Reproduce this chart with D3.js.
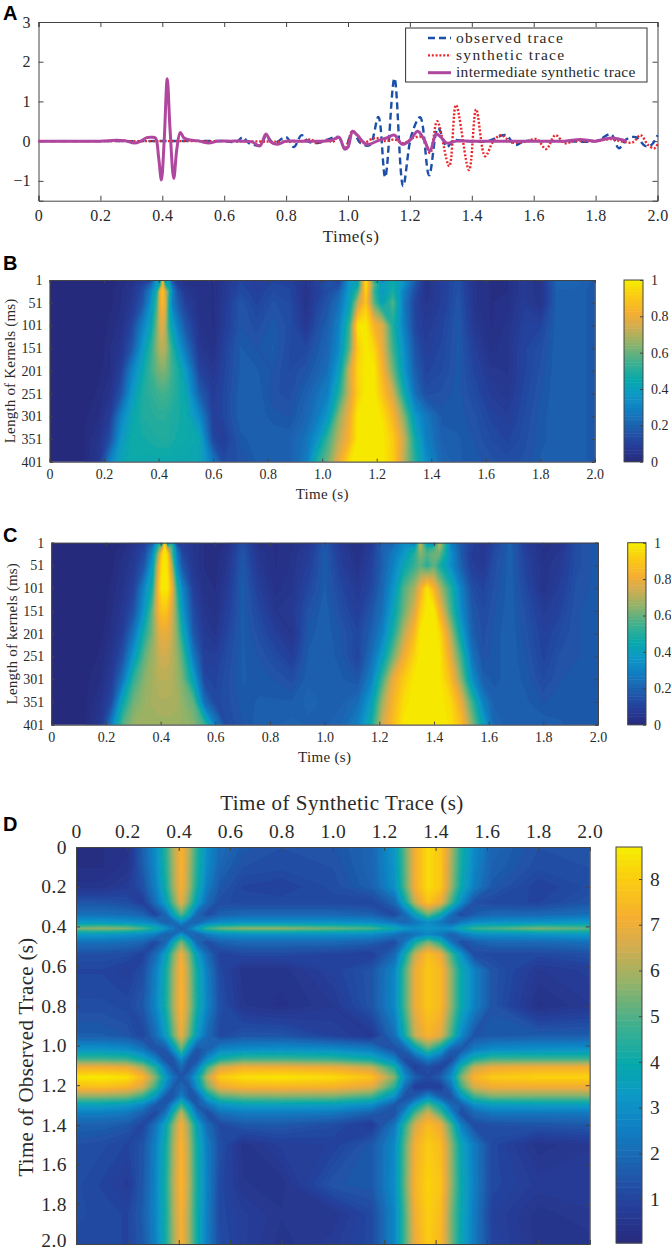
<!DOCTYPE html>
<html>
<head>
<meta charset="utf-8">
<script src="https://cdnjs.cloudflare.com/ajax/libs/d3/7.8.5/d3.min.js"></script>
<style>
  html, body { margin: 0; padding: 0; background: #fff; }
  text { font-family: "Liberation Serif", serif; fill: #2a2a2a; }
  .letter { font-family: "Liberation Sans", sans-serif; font-weight: bold; fill: #000; }
</style>
</head>
<body>
<div id="container"></div>
<script>
/* DATA - panel A traces */
const interTime = [0,.1,.2,.25,.28,.31,.33,.35,.365,.378,.388,.397,.406,.416,.425,.437,.447,.458,.47,.49,.52,.55,.58,.62,.66,.69,.715,.735,.75,.77,.8,.84,.88,.92,.95,.97,.99,1.0,1.015,1.03,1.06,1.1,1.125,1.15,1.175,1.2,1.225,1.245,1.265,1.285,1.3,1.32,1.35,1.4,1.5,1.6,1.7,1.75,1.8,1.85,1.9]
const interValue = [0,0,0,.02,.01,-.05,0,.09,.1,.08,-.4,-.98,0,1.57,.3,-.94,-.2,.22,.08,.03,0,-.05,0,0,0,-.02,-.12,.18,-.02,-.08,0,0,0,0,.03,.1,-.2,-.15,.25,.15,-.08,.02,.08,.15,-.08,.02,.25,.05,-.25,.18,.1,-.05,0,0,0,0,0,.04,0,.08,0]

const obsTime = [0,.3,.6,.64,.66,.68,.72,.735,.76,.8,.825,.85,.87,.9,.97,.99,1.015,1.04,1.07,1.098,1.12,1.15,1.178,1.205,1.233,1.262,1.291,1.32,1.34,1.38,1.45,1.51,1.54,1.57,1.62,1.7,1.8,1.85,1.875,1.9,1.93,1.96,1.98,2.0]
const obsValue = [0,0,0,-.02,.1,-.05,-.1,.15,-.05,.1,-.15,.15,0,-.05,.1,-.2,.25,-.05,-.1,.61,-.91,1.58,-1.13,.15,.6,-.86,.33,-.15,.02,0,0,.15,-.1,0,0,0,0,.17,-.18,.05,.1,-.12,-.1,.15]

const synTime = [0,.6,.85,.88,.9,.93,.95,.97,.99,1.015,1.05,1.07,1.09,1.12,1.15,1.18,1.21,1.24,1.265,1.288,1.327,1.349,1.391,1.414,1.443,1.47,1.494,1.53,1.57,1.61,1.64,1.67,1.7,1.73,1.76,1.8,1.85,1.88,1.92,1.945,1.97,1.99,2.0]
const synValue = [0,0,0,.04,-.05,.03,-.02,.1,-.2,.25,-.05,.03,.08,0,.04,-.05,.08,.1,-.3,.5,-.63,.91,-.73,.8,-.38,0,.15,-.03,-.02,.05,-.2,.15,-.05,0,0,0,.05,0,-.03,.15,-.1,-.18,-.08]

const legendLabels = ["observed trace", "synthetic trace", "intermediate synthetic trace"]

/* DATA - tick labels */
const timeTicks = [0,.2,.4,.6,.8,1,1.2,1.4,1.6,1.8,2]
const ampTicks = [-1,0,1,2,3]
const kernelTicks = [1,51,101,151,201,251,301,351,401]
const unitTicks = [0,.2,.4,.6,.8,1]
const costTicks = [1,2,3,4,5,6,7,8]

/* DATA - panel B, values read at these times and kernel lengths */
const kernelRows = [1,12,26,51,101,151,201,251,301,351,401]
const bTimes = [0,.12,.18,.22,.26,.3,.34,.37,.395,.405,.415,.425,.437,.45,.47,.5,.55,.6,.64,.7,.76,.82,.88,.94,.98,1.02,1.06,1.1,1.13,1.16,1.19,1.22,1.26,1.3,1.34,1.38,1.44,1.5,1.56,1.62,1.68,1.74,1.8,1.86,1.92,2]
const bValues = [
  [0,0,0,0,.02, .04,.08,.1,.45,.2, .9,.2,.45,.15,.08, .04,.04,.03,.06,.12, .1,.12,.1,.06,.1, .15,.1,.4,.42,1, .5,.3,.48,.35,.2, .05,.1,.15,.05,.03, .03,.08,.05,.22,.22, .18],
  [0,0,0,.01,.02, .05,.12,.22,.42,.5, .85,.5,.45,.25,.1, .05,.04,.03,.07,.13, .1,.13,.12,.06,.11, .16,.15,.38,.45,.98, .6,.4,.48,.35,.17, .05,.1,.16,.05,.03, .03,.08,.05,.21,.21, .18],
  [0,0,0,.01,.03, .06,.14,.3,.52,.8, .9,.75,.55,.32,.16, .07,.04,.03,.07,.14, .11,.14,.13,.05,.1, .15,.2,.4,.55,.95, .55,.38,.5,.3,.15, .05,.1,.16,.05,.03, .03,.08,.05,.2,.2, .18],
  [0,0,0,.01,.03, .07,.17,.35,.58,.8, .88,.78,.5,.3,.2, .1,.04,.03,.08,.17, .12,.16,.14,.05,.12, .17,.25,.42,.72,.9, .6,.42,.58,.28,.12, .06,.1,.17,.05,.03, .04,.09,.05,.2,.2, .18],
  [0,0,0,.02,.04, .12,.3,.42,.65,.76, .78,.72,.52,.42,.3, .17,.05,.03,.09,.17, .15,.18,.15,.07,.15, .2,.3,.55,.98,1, .85,.78,.5,.3,.13, .08,.12,.18,.07,.03, .05,.11,.12,.2,.2, .18],
  [0,0,0,.03,.06, .17,.38,.52,.66,.71, .72,.7,.62,.52,.4, .26,.07,.04,.11,.19, .17,.19,.14,.13,.18, .22,.33,.6,.92,1, .95,.8,.55,.35,.17, .1,.13,.18,.1,.04, .06,.12,.15,.2,.2, .18],
  [0,0,.01,.03,.1, .3,.45,.55,.62,.63, .64,.63,.6,.55,.5, .38,.12,.07,.12,.19, .19,.17,.14,.17,.2, .25,.4,.75,.95,1, 1,.85,.62,.38,.2, .12,.14,.18,.12,.07, .06,.12,.16,.2,.2, .18],
  [0,0,.02,.05,.16, .37,.5,.53,.55,.56, .56,.56,.55,.53,.5, .44,.2,.09,.13,.2, .2,.16,.15,.2,.25, .3,.5,.75,.93,1, 1,.9,.75,.48,.25, .15,.16,.18,.14,.09, .07,.13,.17,.2,.2, .18],
  [0,.01,.03,.09,.3, .44,.5,.51,.52,.52, .52,.52,.51,.5,.49, .47,.33,.1,.13,.2, .2,.18,.17,.22,.28, .38,.65,.82,1,1, 1,.98,.85,.65,.38, .28,.18,.18,.16,.12, .1,.14,.18,.2,.2, .18],
  [0,.01,.05,.15,.37, .47,.48,.49,.5,.5, .5,.5,.5,.49,.48, .47,.45,.13,.1,.18, .2,.2,.2,.26,.36, .55,.72,.85,1,1, 1,1,.92,.74,.48, .3,.2,.19,.17,.14, .12,.15,.18,.2,.2, .18],
  [0,.01,.07,.3,.43, .47,.46,.46,.46,.46, .46,.46,.46,.45,.45, .45,.44,.28,.14,.16, .19,.2,.2,.28,.5, .62,.8,.98,1,1, 1,1,.93,.72,.52, .35,.22,.19,.18,.16, .15,.16,.19,.2,.2, .18]
]

/* DATA - panel C */
const cTimes = [0,.12,.18,.22,.26,.3,.34,.37,.395,.405,.415,.425,.44,.46,.48,.52,.56,.6,.64,.7,.76,.82,.88,.94,1,1.06,1.12,1.17,1.21,1.25,1.29,1.33,1.35,1.375,1.4,1.42,1.46,1.5,1.54,1.58,1.62,1.68,1.74,1.8,1.86,1.92,2]
const cValues = [
  [0,0,0,0,.02, .05,.1,.2,.5,.2, .95,.2,.5,.12,.1, .06,.03,.02,.03,.15, .04,.03,.04,.07,.18, .07,.03,.08,.2,.22, .35,.25,.75,.35,.2, .75,.3,.18,.1,.06, .12,.2,.08,.04,.05, .15,.18],
  [0,0,0,.01,.02, .06,.12,.27,.62,.7, 1,.7,.6,.22,.1, .06,.03,.02,.04,.16, .05,.03,.04,.08,.18, .08,.03,.09,.2,.25, .35,.45,.72,.5,.55, .7,.33,.18,.1,.07, .13,.2,.09,.04,.06, .15,.18],
  [0,0,0,.01,.03, .07,.14,.33,.75,.95, 1,.95,.6,.3,.13, .06,.03,.02,.05,.17, .06,.03,.05,.09,.19, .09,.04,.1,.2,.28, .38,.52,.65,.58,.62, .62,.36,.18,.09,.07, .14,.2,.1,.04,.07, .15,.18],
  [0,0,0,.01,.04, .08,.18,.4,.85,.98, 1,.97,.72,.34,.17, .07,.03,.02,.06,.18, .07,.03,.05,.1,.19, .1,.05,.11,.2,.3, .44,.55,.6,.52,.6, .5,.35,.2,.1,.08, .15,.2,.11,.05,.08, .15,.18],
  [0,0,0,.02,.05, .11,.32,.5,.92,1, 1,1,.85,.52,.32, .1,.04,.03,.08,.19, .1,.04,.06,.13,.19, .13,.08,.13,.22,.36, .58,.7,.82,.98,.85, .72,.52,.3,.15,.12, .16,.2,.13,.05,.1, .16,.18],
  [0,0,0,.03,.07, .16,.38,.62,.86,.9, .9,.88,.78,.6,.38, .14,.06,.04,.1,.19, .13,.06,.08,.16,.2, .15,.1,.17,.25,.42, .62,.78,.92,1,1, .85,.58,.33,.18,.14, .17,.2,.15,.09,.12, .17,.18],
  [0,0,.01,.04,.1, .26,.5,.64,.78,.79, .8,.79,.75,.64,.48, .18,.08,.06,.12,.19, .15,.1,.06,.18,.2, .17,.13,.2,.3,.5, .72,.88,1,1,1, .97,.72,.42,.2,.15, .18,.2,.16,.11,.14, .17,.18],
  [0,0,.02,.06,.16, .38,.6,.68,.74,.75, .75,.75,.72,.67,.58, .28,.1,.1,.14,.19, .17,.14,.1,.19,.2, .18,.12,.24,.4,.62, .82,.95,1,1,1, 1,.8,.55,.26,.16, .18,.2,.17,.12,.16, .17,.18],
  [0,.01,.03,.09,.26, .53,.65,.69,.72,.72, .72,.72,.71,.68,.63, .42,.13,.12,.15,.19, .18,.17,.15,.2,.2, .19,.17,.3,.55,.8, .92,1,1,1,1, 1,.88,.65,.35,.2, .18,.2,.18,.14,.17, .18,.18],
  [0,.01,.05,.14,.45, .62,.67,.69,.7,.7, .7,.7,.7,.69,.66, .6,.25,.13,.15,.18, .19,.19,.19,.21,.2, .2,.24,.4,.68,.85, .97,1,1,1,1, 1,.96,.8,.55,.3, .2,.19,.19,.17,.18, .18,.18],
  [0,.01,.07,.3,.58, .67,.68,.68,.68,.68, .68,.68,.68,.68,.67, .65,.55,.3,.14,.17, .2,.2,.21,.2,.2, .22,.3,.48,.75,.88, 1,1,1,1,1, 1,.98,.88,.65,.42, .22,.19,.2,.2,.19, .18,.18]
]

/* DATA - panel D, columns = synthetic time, rows = observed time */
const dSynTimes = [0,.1,.2,.26,.31,.35,.38,.41,.44,.47,.51,.56,.65,.8,1,1.15,1.24,1.28,1.32,1.37,1.42,1.46,1.5,1.55,1.62,1.8,2]
const dObsTimes = [0,.1,.2,.28,.34,.38,.41,.44,.48,.54,.62,.8,.95,1.02,1.07,1.11,1.16,1.21,1.26,1.3,1.34,1.4,1.5,1.7,1.85,2]
const dValues = [
  [.3,.3,.4,1.8,3,4.6,6.2,7.4,6.2,4.6,3,2.1,1.6,1.4,1.5,1.9,3.3,5.3,7.2,8.4,7.9,6.2,4.3,2.9,1.9,1.4,1.4],
  [.3,.3,.5,1.7,2.9,4.5,6.1,7.4,6.1,4.5,2.9,1.9,1.4,1.3,1.4,1.9,3.2,5.2,7.2,8.4,7.9,6.1,4.2,2.8,1.8,1.3,1.4],
  [.5,.5,.8,1.4,2.7,4.3,6,7.3,6,4.3,2.6,1.6,1.1,1,1.3,1.8,3.1,5.1,7.2,8.4,7.9,6,4,2.6,1.6,1,1.3],
  [1.5,1.5,1.3,.9,2.2,3.6,5.4,6.9,5.4,3.6,2.1,1.3,1.2,1.2,1.2,1.1,2,4,6.4,7.8,7,5,3,1.4,1.2,1.1,1.5],
  [2.2,2.2,2.1,1.9,1.1,2,3.8,5.2,3.8,2,1.3,1.8,2,2,2,1.8,1.2,2,3.6,5.4,4,2.2,1.2,1.7,2,2,2.2],
  [3.4,3.4,3.2,3,2.6,1.8,2,3,2,1.9,2.6,3,3.1,3.1,3.1,3,2.4,2,2.3,3,2.4,1.8,2.5,3,3.1,3.2,3.4],
  [5.6,5.8,5.6,5,4.2,3.2,2.4,1.6,2.4,3.6,4.8,5.4,5.8,5.8,5.4,5,4,3.3,3,3.2,3,3.2,4,4.8,5,5.6,5.2],
  [3.4,3.4,3.2,3,2.6,1.8,2,3.2,2,1.9,2.6,3,3.1,3.1,3.1,3,2.4,2,2.3,2.8,2.4,1.8,2.5,3,3.1,3.2,3.4],
  [2.2,2.2,2.1,1.9,1.2,2,4,5.6,4,2,1.3,1.8,2,2,2,1.8,1.3,2.4,4.2,5.6,4.4,2.4,1.3,1.7,2,2,2.2],
  [1.4,1.4,1.3,1,2.1,3.6,5.6,7.1,5.6,3.6,2.1,1,1.2,1.2,1.1,.9,2,4,6.4,7.7,7,5,3.1,1.3,1.2,1.2,1.4],
  [1.1,1.1,.9,1.3,2.6,4.2,6,7.4,6,4.2,2.6,1.2,.5,.5,1,1.5,2.8,5,7,7.9,7.5,5.8,4,2.7,1.5,.7,.9],
  [1.3,1.3,1.2,1.6,2.8,4.3,6.1,7.4,6.1,4.3,2.8,1.4,.6,.4,.7,1.5,2.9,5,7,7.9,7.5,5.8,4,2.7,1.5,.4,.7],
  [1.7,1.7,1.5,1.1,2.1,3.5,5.4,7,5.4,3.5,2.1,1.2,1.5,1.5,1,.7,2.2,4.2,6.4,7.4,6.8,5,2.9,1.5,1.6,1.7,1.7],
  [3.2,3.2,3,2.4,1.4,1.6,3.2,5.2,3,1.5,1.8,2.8,3,3.1,3,2.6,1.4,1.8,3.4,5,3.6,1.8,1.6,2.6,3,3.1,3.2],
  [5,5,4.8,4,2.8,1.4,1.6,3,1.6,1.4,3,4.4,5,5,4.8,4.2,2.8,1.2,1.6,2.6,1.8,1.2,3,4.4,5,5,5],
  [7.2,7.2,7,6,4.4,2.4,1.4,2,1.4,2.4,4.8,6.6,7.2,7.2,7,6.4,4.4,2.2,.9,1.4,1,2.2,4.4,6.4,7,7.2,7.2],
  [8.6,8.7,8.5,7.5,5.6,3.4,2.2,1.5,2.2,3.6,6.2,8,8.5,8.6,8.4,7.8,5.6,3,1.8,1.2,1.8,3,5.6,7.4,8,8.2,8.2],
  [7.6,7.7,7.4,6.6,4.8,2.8,1.6,2,1.6,3,5.4,7,7.4,7.4,7.3,6.8,4.6,2.2,.9,1,.9,2.2,4.8,6.6,7.1,7.1,7.1],
  [5.6,5.6,5.4,4.6,3.2,1.5,1.6,2.8,1.6,1.6,3.6,5,5.4,5.5,5.4,4.8,3,1.4,1.8,3,1.8,1.4,3.2,4.8,5.4,5.4,5.4],
  [3.6,3.6,3.4,2.8,1.6,1.6,3.2,4.8,3.2,1.6,2.2,3.2,3.6,3.6,3.5,3,1.6,2,3.6,5.2,3.8,2,1.7,3,3.4,3.5,3.5],
  [2.6,2.6,2.4,1.8,1.2,2.4,4.4,6.4,4.4,2.4,1.3,2.2,2.5,2.5,2.4,1.8,1.4,3,5,6.6,5,3,1.3,2,2.4,2.4,2.4],
  [1.8,1.8,1.6,1.1,2.3,3.8,5.8,7.2,5.8,3.8,2.1,1.2,1.6,1.6,1.3,.8,2.4,4.6,6.6,7.6,7,5,2.6,1.3,1.4,1.5,1.6],
  [1.4,1.3,1.1,1.5,2.7,4.2,6.1,7.4,6.1,4.2,2.6,1.4,.5,.9,1,1.6,2.9,5.2,7.2,8,7.6,5.8,3.8,2.5,1.2,.5,.7],
  [1.3,1.1,.8,1.6,2.8,4.4,6.2,7.5,6.2,4.3,2.7,1.2,.6,.5,1.5,1.6,3,5.3,7.4,8.2,7.8,5.9,4,2.6,1.2,.8,.8],
  [1.3,1.2,1.1,1.7,2.8,4.3,6.1,7.3,6,4.2,2.6,1.2,.9,.6,.6,1.2,2.8,5,7.2,8.1,7.6,5.6,3.9,2.5,1,.5,.7],
  [1.2,1.2,1.1,1.6,2.7,4.3,6,7.3,6,4.2,2.6,1.3,.9,.5,.8,1.2,2.8,5,7,8,7.5,5.6,3.8,2.5,1.1,.5,.5]
]

/* CONSTANTS */
const width = 671, height = 1252, levels = 64
const mapColors = ["#272a7d","#25409c","#1c62b0","#0f83c4","#0d98c6","#06a8ac","#3fb08f","#95b267","#d4ad4f","#f5ae30","#fbcd10","#f6ee00"]
const mapStops = [0,.1,.2,.3,.37,.45,.55,.66,.75,.82,.92,1]
const frameColor = "#444"

const svg = d3.select("#container").append("svg")
  .attr("width", width)
  .attr("height", height)
  .style("display", "block")

svg.append("defs").append("filter")
  .attr("id", "soft")
  .attr("x", "-2%").attr("y", "-2%").attr("width", "104%").attr("height", "104%")
  .append("feGaussianBlur").attr("stdDeviation", .7)

const colorFor = d3.scaleLinear().domain(mapStops).range(mapColors)

function letter(txt, x, y) {
  svg.append("text").attr("class", "letter")
    .attr("x", x).attr("y", y)
    .attr("font-size", 20)
    .text(txt)
}

function timeFormat(d) {
  return d === 0 ? "0" : d3.format(".1f")(d)
}

function styleAxis(g, size, spacing) {
  g.selectAll(".domain").attr("stroke", frameColor).attr("stroke-width", 1)
  g.selectAll(".tick line").attr("stroke", frameColor).attr("stroke-width", 1)
  g.selectAll("text")
    .attr("font-family", "Liberation Serif")
    .attr("font-size", size)
    .attr("letter-spacing", spacing || 0)
    .attr("fill", "#2a2a2a")
}

/* contour fill, with grid indexes mapped to times through scales */
function heatmap(g, rowValues, colPos, rowPos, lo, hi) {
  const n = colPos.length, m = rowPos.length
  const indexX = d3.scaleLinear().domain(colPos.map((d, i) => i + .5)).range(colPos).clamp(true)
  const indexY = d3.scaleLinear().domain(rowPos.map((d, i) => i + .5)).range(rowPos).clamp(true)
  const path = d3.geoPath(d3.geoTransform({
    point(x, y) { this.stream.point(indexX(x), indexY(y)) }
  }))
  const levelValue = d3.scaleLinear().domain([0, levels]).range([lo, hi])
  const unit = d3.scaleLinear().domain([lo, hi]).range([0, 1])
  const contours = d3.contours().size([n, m])
    .thresholds(d3.range(levels).map(levelValue))(rowValues.flat())
  g.selectAll("path").data(contours).join("path")
    .attr("d", path)
    .attr("fill", d => colorFor(unit(d.value)))
}

function mapFrame(id, left, top, w, h) {
  const g = svg.append("g").attr("clip-path", `url(#${id})`)
  svg.select("defs").append("clipPath").attr("id", id)
    .append("rect").attr("x", left).attr("y", top).attr("width", w).attr("height", h)
  g.append("rect")
    .attr("x", left).attr("y", top).attr("width", w).attr("height", h)
    .attr("fill", mapColors[0])
  return g.append("g").attr("filter", "url(#soft)")
}

function colorbar(x0, x1, y0, y1, lo, hi, ticks, size) {
  const scale = d3.scaleLinear().domain([lo, hi]).range([y1, y0])
  const unit = d3.scaleLinear().domain([lo, hi]).range([0, 1])
  const band = (hi - lo) / levels
  svg.append("g").selectAll("rect")
    .data(d3.range(levels).map(i => lo + i * band))
    .join("rect")
    .attr("x", x0).attr("width", x1 - x0)
    .attr("y", d => scale(d + band))
    .attr("height", d => scale(d) - scale(d + band) + .5)
    .attr("fill", d => colorFor(unit(d + band / 2)))
  svg.append("rect")
    .attr("x", x0).attr("y", y0)
    .attr("width", x1 - x0).attr("height", y1 - y0)
    .attr("fill", "none").attr("stroke", frameColor)
  svg.append("g")
    .attr("transform", `translate(${x1},0)`)
    .call(d3.axisRight(scale).tickValues(ticks).tickSize(-3).tickPadding(8).tickFormat(d => d))
    .call(g => g.select(".domain").remove())
    .call(styleAxis, size)
}

/* PANEL A */
const ax = d3.scaleLinear().domain([0, 2]).range([38.5, 657.5])
const ay = d3.scaleLinear().domain([-1.5, 3]).range([200.7, 22])

letter("A", 3, 20)

svg.append("g").attr("transform", "translate(0,200.7)")
  .call(d3.axisBottom(ax).tickValues(timeTicks).tickSize(-5).tickPadding(9).tickFormat(timeFormat))
  .call(styleAxis, 16, .4)
svg.append("g").attr("transform", "translate(0,22)")
  .call(d3.axisTop(ax).tickValues(timeTicks).tickSize(-5).tickFormat(""))
  .call(styleAxis, 16)
svg.append("g").attr("transform", "translate(38.5,0)")
  .call(d3.axisLeft(ay).tickValues(ampTicks).tickSize(-5).tickPadding(8).tickFormat(d3.format("d")))
  .call(styleAxis, 16)
svg.append("g").attr("transform", "translate(657.5,0)")
  .call(d3.axisRight(ay).tickValues(ampTicks).tickSize(-5).tickFormat(""))
  .call(styleAxis, 16)

svg.append("text")
  .attr("x", 351).attr("y", 242).attr("text-anchor", "middle")
  .attr("font-size", 17).attr("letter-spacing", .5)
  .text("Time(s)")

const traceLine = d3.line()
  .x(d => ax(d[0]))
  .y(d => ay(d[1]))
  .curve(d3.curveCatmullRom.alpha(.5))

const traces = [
  { t: obsTime, v: obsValue, color: "#1b4fa8", width: 2.4, dash: "7 4" },
  { t: synTime, v: synValue, color: "#e8262a", width: 2.4, dash: "2 1.8" },
  { t: interTime, v: interValue, color: "#b0479f", width: 3, dash: null }
]

svg.append("g").selectAll("path")
  .data(traces)
  .join("path")
  .attr("d", d => traceLine(d3.zip(d.t, d.v)))
  .attr("fill", "none")
  .attr("stroke", d => d.color)
  .attr("stroke-width", d => d.width)
  .attr("stroke-dasharray", d => d.dash)

const legend = svg.append("g")
legend.append("rect")
  .attr("x", 405.6).attr("y", 28).attr("width", 241.4).attr("height", 54)
  .attr("fill", "#fff").attr("stroke", "#333")
const legendY = d3.scalePoint().domain(legendLabels).range([38, 72.7])
legendLabels.forEach((label, i) => {
  legend.append("line")
    .attr("x1", 428).attr("x2", 451)
    .attr("y1", legendY(label)).attr("y2", legendY(label))
    .attr("stroke", traces[i].color)
    .attr("stroke-width", traces[i].width)
    .attr("stroke-dasharray", traces[i].dash)
  legend.append("text")
    .attr("x", 456).attr("y", legendY(label) + 4.5)
    .attr("font-size", 15.5)
    .attr("letter-spacing", i < 2 ? 1.3 : .3)
    .text(label)
})

/* PANELS B AND C */
function kernelPanel(o) {
  const x = d3.scaleLinear().domain([0, 2]).range([o.left, o.right])
  const y = d3.scaleLinear().domain([1, 401]).range([o.top, o.bottom])
  const g = mapFrame(o.id, o.left, o.top, o.right - o.left, o.bottom - o.top)
  heatmap(g, o.values, o.times.map(x), kernelRows.map(y), 0, 1)

  svg.append("g").attr("transform", `translate(0,${o.bottom})`)
    .call(d3.axisBottom(x).tickValues(timeTicks).tickSize(-3).tickPadding(7).tickFormat(timeFormat))
    .call(styleAxis, 14)
  svg.append("g").attr("transform", `translate(0,${o.top})`)
    .call(d3.axisTop(x).tickValues(timeTicks).tickSize(-3).tickFormat(""))
    .call(styleAxis, 14)
  svg.append("g").attr("transform", `translate(${o.left},0)`)
    .call(d3.axisLeft(y).tickValues(kernelTicks).tickSize(-3).tickPadding(7))
    .call(styleAxis, 14)
  svg.append("g").attr("transform", `translate(${o.right},0)`)
    .call(d3.axisRight(y).tickValues(kernelTicks).tickSize(-3).tickFormat(""))
    .call(styleAxis, 14)

  svg.append("text")
    .attr("x", (o.left + o.right) / 2).attr("y", o.bottom + 37).attr("text-anchor", "middle")
    .attr("font-size", 15).attr("letter-spacing", .3)
    .text("Time (s)")
  svg.append("text")
    .attr("transform", `translate(${o.titleX},${(o.top + o.bottom) / 2}) rotate(-90)`)
    .attr("text-anchor", "middle")
    .attr("font-size", 15).attr("letter-spacing", .2)
    .text(o.yTitle)

  colorbar(o.barLeft, o.barRight, o.top, o.bottom, 0, 1, unitTicks, 14)
}

letter("B", 3, 270)
kernelPanel({
  id: "clipB",
  left: 49.6, right: 594.8, top: 280, bottom: 461.7,
  barLeft: 624, barRight: 643,
  titleX: 15, yTitle: "Length of Kernels (ms)",
  times: bTimes, values: bValues
})

letter("C", 3, 542)
kernelPanel({
  id: "clipC",
  left: 51.3, right: 598, top: 542.7, bottom: 724.7,
  barLeft: 627.7, barRight: 646,
  titleX: 17, yTitle: "Length of kernels (ms)",
  times: cTimes, values: cValues
})

/* PANEL D */
const dx = d3.scaleLinear().domain([0, 2]).range([76, 589.7])
const dy = d3.scaleLinear().domain([0, 2]).range([847, 1244])

letter("D", 3, 831)

heatmap(mapFrame("clipD", 76, 847, 513.7, 397), dValues, dSynTimes.map(dx), dObsTimes.map(dy), .04, 8.7)

svg.append("g").attr("transform", "translate(0,847)")
  .call(d3.axisTop(dx).tickValues(timeTicks).tickSize(-4).tickPadding(9).tickFormat(timeFormat))
  .call(styleAxis, 19.5, .5)
svg.append("g").attr("transform", "translate(0,1244)")
  .call(d3.axisBottom(dx).tickValues(timeTicks).tickSize(-4).tickFormat(""))
  .call(styleAxis, 19.5)
svg.append("g").attr("transform", "translate(76,0)")
  .call(d3.axisLeft(dy).tickValues(timeTicks).tickSize(-4).tickPadding(9).tickFormat(timeFormat))
  .call(styleAxis, 19.5, .5)
  .call(g => g.selectAll(".tick text").filter(d => d === 2).attr("dy", "0.15em"))
svg.append("g").attr("transform", "translate(589.7,0)")
  .call(d3.axisRight(dy).tickValues(timeTicks).tickSize(-4).tickFormat(""))
  .call(styleAxis, 19.5)

svg.append("text")
  .attr("x", 342).attr("y", 810).attr("text-anchor", "middle")
  .attr("font-size", 21).attr("letter-spacing", .5)
  .text("Time of Synthetic Trace (s)")
svg.append("text")
  .attr("transform", "translate(33,1057) rotate(-90)")
  .attr("text-anchor", "middle")
  .attr("font-size", 21).attr("letter-spacing", .3)
  .text("Time of Observed Trace (s)")

colorbar(616, 642, 847, 1243, .04, 8.7, costTicks, 19.5)
</script>
</body>
</html>
